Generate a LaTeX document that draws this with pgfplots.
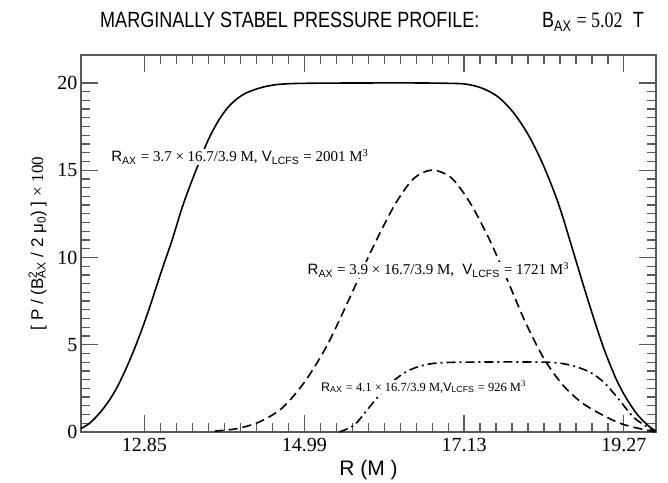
\documentclass[border=0pt]{standalone}
\usepackage{fontspec}
\setmainfont{Liberation Sans}
\newfontfamily\tms{Liberation Serif}
\usepackage{graphicx}
\usepackage{pgfplots}
\pgfplotsset{compat=1.18}
\newcommand{\fs}[1]{\fontsize{#1}{#1}\selectfont}
\newcommand{\sub}[1]{\textsubscript{#1}}
\begin{document}
\begin{tikzpicture}
\begin{axis}[
  scale only axis, width=575pt, height=377pt,
  xmin=12.0, xmax=19.7, ymin=0, ymax=21.6,
  xtick={12.85,14.99,17.13,19.27},
  xticklabels={12.85,14.99,17.13,19.27},
  ytick={0,5,10,15,20},
  minor x tick num=9,
  minor y tick num=9,
  major tick length=17pt,
  minor tick length=9pt,
  every tick/.append style={color=black!65, line width=1.2pt},
  axis line style={black!65, line width=1.5pt},
  ticklabel style={font=\tms\fs{20}},
  xticklabel style={yshift=-3pt},
  /pgf/number format/assume math mode=true,
  xlabel={R (M )}, xlabel style={font=\fs{21}, yshift=-1pt},
  ylabel={[ P / (B\rlap{\textsuperscript{2}}\sub{AX} / 2 μ\sub{0}) ] {\tms×} {\tms 100}},
  ylabel style={font=\fs{17}, yshift=4pt},
  clip=false,
]
% solid, R_AX = 3.7
\addplot[black, line width=1.6pt, smooth] coordinates {
(12.0,0.2) (12.1,0.45) (12.2,0.85) (12.3,1.35) (12.4,1.95) (12.5,2.7) (12.6,3.6)
(12.7,4.6) (12.8,5.7) (12.9,6.9) (13.0,8.2) (13.1,9.5) (13.22,11.0) (13.35,12.8)
(13.45,14.0) (13.55,15.1) (13.7,16.7) (13.85,17.9) (14.0,18.75) (14.2,19.4)
(14.5,19.82) (14.9,19.97) (16.3,20.0) (17.0,19.97) (17.2,19.9) (17.4,19.65)
(17.6,19.15) (17.8,18.25) (18.0,16.95) (18.2,15.2) (18.4,13.0) (18.58,10.5)
(18.8,7.4) (19.0,4.8) (19.17,3.0) (19.3,1.95) (19.45,1.0) (19.6,0.35) (19.7,0.05)
};
% dashed, R_AX = 3.9
\addplot[black, line width=1.6pt, smooth, dash pattern=on 9pt off 5pt] coordinates {
(13.79,0.05) (14.1,0.2) (14.4,0.6) (14.7,1.4) (15.0,2.9) (15.3,5.0) (15.6,7.7)
(15.9,10.5) (16.2,13.0) (16.45,14.5) (16.69,15.0) (16.95,14.6) (17.2,13.2)
(17.45,11.2) (17.7,8.8) (17.95,6.3) (18.2,4.2) (18.45,2.7) (18.7,1.7)
(18.95,1.05) (19.25,0.45) (19.68,0.0)
};
% dash-dot, R_AX = 4.1
\addplot[black, line width=1.6pt, smooth, dash pattern=on 9pt off 4pt on 2pt off 4pt] coordinates {
(15.46,0.0) (15.66,0.40) (15.83,1.26) (16.0,2.12) (16.2,2.98) (16.40,3.55)
(16.67,3.9) (17.07,4.0) (18.21,4.0) (18.54,3.84) (18.81,3.44) (19.01,2.81)
(19.21,1.83) (19.41,0.8) (19.69,0.0)
};
\node[anchor=west, fill=white, inner sep=1pt, font=\fs{15}] at (axis cs:12.39,15.76)
  {R\sub{AX} {\tms = 3.7 × 16.7/3.9 M,} V\sub{LCFS} {\tms = 2001 M\textsuperscript{3}}};
\node[anchor=west, fill=white, inner sep=1pt, font=\fs{15}] at (axis cs:15.02,9.28)
  {R\sub{AX} {\tms = 3.9 × 16.7/3.9 M,} \ V\sub{LCFS} {\tms = 1721 M\textsuperscript{3}}};
\node[anchor=west, fill=white, inner sep=1pt, font=\fs{12.5}] at (axis cs:15.2,2.58)
  {R\sub{AX} {\tms = 4.1 × 16.7/3.9 M,}V\sub{LCFS} {\tms = 926 M\textsuperscript{3}}};
\end{axis}
\node[anchor=base west, font=\fs{22}, inner sep=0pt] at ([xshift=19pt, yshift=27pt]current axis.north west)
  {\scalebox{0.82}[1]{MARGINALLY STABEL PRESSURE PROFILE:}};
\node[anchor=base east, font=\fs{22}, inner sep=0pt] at ([xshift=-12pt, yshift=27pt]current axis.north east)
  {\scalebox{0.82}[1]{B\sub{AX} {\tms = 5.02} \ T}};
\path[use as bounding box] ([xshift=-81pt, yshift=-47pt]current axis.south west)
  rectangle ([xshift=12pt, yshift=55pt]current axis.north east);
\end{tikzpicture}
\end{document}
